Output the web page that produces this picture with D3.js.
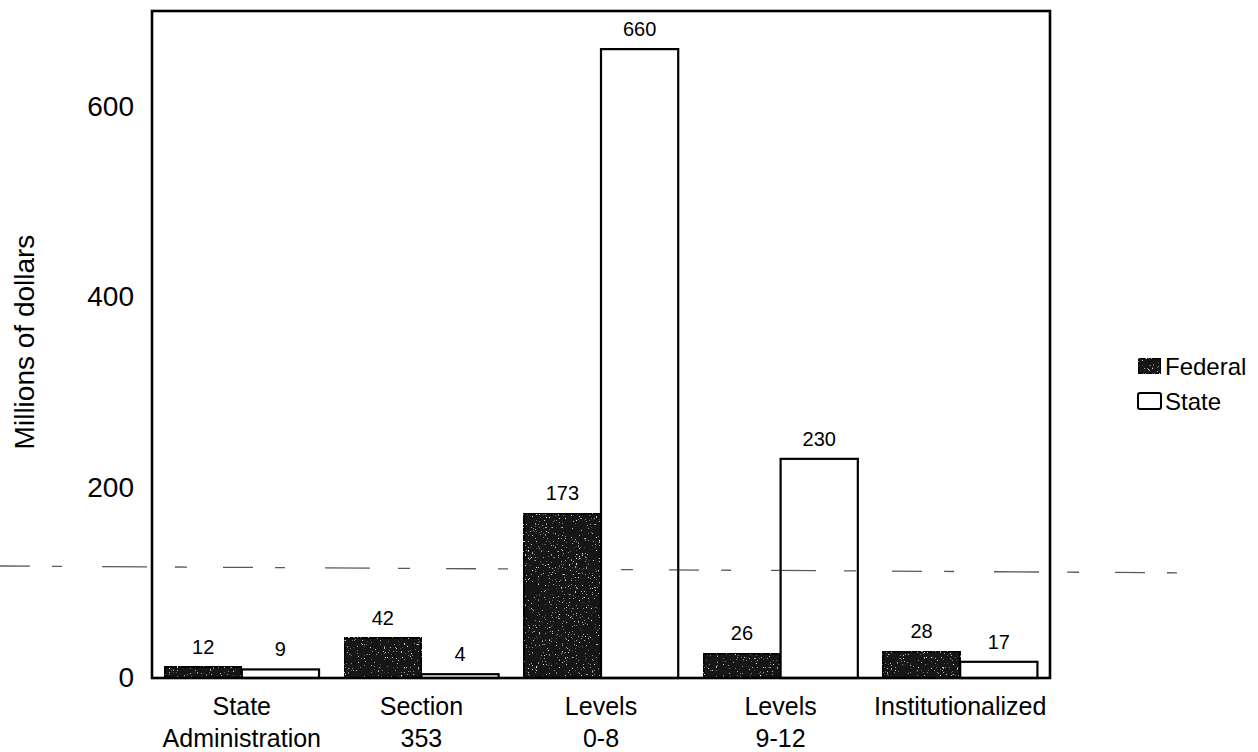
<!DOCTYPE html>
<html>
<head>
<meta charset="utf-8">
<script src="https://cdn.jsdelivr.net/npm/d3@7"></script>
<style>
  html, body { margin: 0; padding: 0; background: #fff; }
  svg { display: block; font-family: "Liberation Sans", Arial, sans-serif; }
</style>
</head>
<body>
<svg id="chart" width="1258" height="752"></svg>
<script>
// Spending by program area, millions of dollars
const categories = [["State", "Administration"], ["Section", "353"], ["Levels", "0-8"], ["Levels", "9-12"], ["Institutionalized"]];
const seriesNames = ["Federal", "State"];
const federal = [12, 42, 173, 26, 28];
const stateFunds = [9, 4, 660, 230, 17];
const yTicks = [0, 200, 400, 600];

const plot = { left: 152, right: 1050, top: 11, bottom: 678 };

const svg = d3.select("#chart");

// speckled texture for the federal bars
const defs = svg.append("defs");
const grain = defs.append("filter").attr("id", "grain")
  .attr("x", 0).attr("y", 0).attr("width", "100%").attr("height", "100%");
grain.append("feTurbulence").attr("type", "fractalNoise")
  .attr("baseFrequency", 0.7).attr("numOctaves", 2).attr("seed", 7).attr("result", "noise");
grain.append("feColorMatrix").attr("in", "noise").attr("type", "matrix")
  .attr("values", "0 0 0 0 0.85  0 0 0 0 0.85  0 0 0 0 0.85  8 0 0 0 -5.4").attr("result", "specks");
grain.append("feComposite").attr("in", "specks").attr("in2", "SourceAlpha").attr("operator", "in").attr("result", "clipped");
const merge = grain.append("feMerge");
merge.append("feMergeNode").attr("in", "SourceGraphic");
merge.append("feMergeNode").attr("in", "clipped");

const x0 = d3.scaleBand()
  .domain(d3.range(categories.length))
  .range([plot.left, plot.right])
  .paddingInner(0.14)
  .paddingOuter(0.07);

const x1 = d3.scaleBand()
  .domain(seriesNames)
  .range([0, x0.bandwidth()]);

const y = d3.scaleLinear().domain([0, 700]).range([plot.bottom, plot.top]);

const fills = { Federal: "#141414", State: "#ffffff" };

const rows = categories.map((c, i) => ({ i, values: [
  { key: "Federal", value: federal[i] },
  { key: "State", value: stateFunds[i] }
]}));

// bars
const groups = svg.append("g").selectAll("g").data(rows).join("g")
  .attr("transform", d => `translate(${x0(d.i)},0)`);

groups.selectAll("rect").data(d => d.values).join("rect")
  .attr("x", d => x1(d.key))
  .attr("y", d => y(d.value))
  .attr("width", x1.bandwidth())
  .attr("height", d => y(0) - y(d.value))
  .attr("fill", d => fills[d.key])
  .attr("stroke", "#000")
  .attr("stroke-width", 2.2)
  .attr("filter", d => d.key === "Federal" ? "url(#grain)" : null);

// value labels
groups.selectAll("text").data(d => d.values).join("text")
  .attr("x", d => x1(d.key) + x1.bandwidth() / 2)
  .attr("y", d => y(d.value) - 13)
  .attr("text-anchor", "middle")
  .attr("font-size", 20)
  .attr("fill", "#000")
  .text(d => d.value);

// plot frame
svg.append("rect")
  .attr("x", plot.left).attr("y", plot.top)
  .attr("width", plot.right - plot.left).attr("height", plot.bottom - plot.top)
  .attr("fill", "none").attr("stroke", "#000").attr("stroke-width", 2.6);

// y axis labels (no tick marks)
const yAxis = d3.axisLeft(y).tickValues(yTicks).tickSize(0).tickPadding(18);
const gy = svg.append("g").attr("transform", `translate(${plot.left},0)`).call(yAxis);
gy.select(".domain").remove();
gy.selectAll("text")
  .attr("font-size", 28)
  .attr("font-family", "Liberation Sans, Arial, sans-serif")
  .attr("fill", "#000");

svg.append("text")
  .attr("transform", `translate(24,342) rotate(-90)`)
  .attr("text-anchor", "middle")
  .attr("dominant-baseline", "central")
  .attr("font-size", 28)
  .text("Millions of dollars");

// category labels
const catG = svg.append("g");
categories.forEach((lines, i) => {
  const cx = x0(i) + x0.bandwidth() / 2;
  const t = catG.append("text")
    .attr("text-anchor", "middle")
    .attr("font-size", 25);
  lines.forEach((ln, k) => {
    t.append("tspan").attr("x", cx).attr("y", 715 + k * 32).text(ln);
  });
});

// legend
const legend = svg.append("g").attr("transform", "translate(1138,0)");
const legendRows = [{ key: "Federal", cy: 366 }, { key: "State", cy: 401 }];
legendRows.forEach(r => {
  legend.append("rect")
    .attr("x", 0).attr("y", r.cy - 8)
    .attr("width", 23).attr("height", 16)
    .attr("rx", 2)
    .attr("fill", fills[r.key])
    .attr("stroke", "#000").attr("stroke-width", 2)
    .attr("filter", r.key === "Federal" ? "url(#grain)" : null);
  legend.append("text")
    .attr("x", 27).attr("y", r.cy)
    .attr("dominant-baseline", "central")
    .attr("font-size", 24)
    .text(r.key);
});

// faint broken rule across the page
svg.append("line")
  .attr("x1", 0).attr("y1", 566).attr("x2", 1210).attr("y2", 573)
  .attr("stroke", "#222").attr("stroke-width", 1.3).attr("opacity", 0.75)
  .attr("stroke-dasharray", "30 22 10 40 45 28 12 36");
</script>
</body>
</html>
